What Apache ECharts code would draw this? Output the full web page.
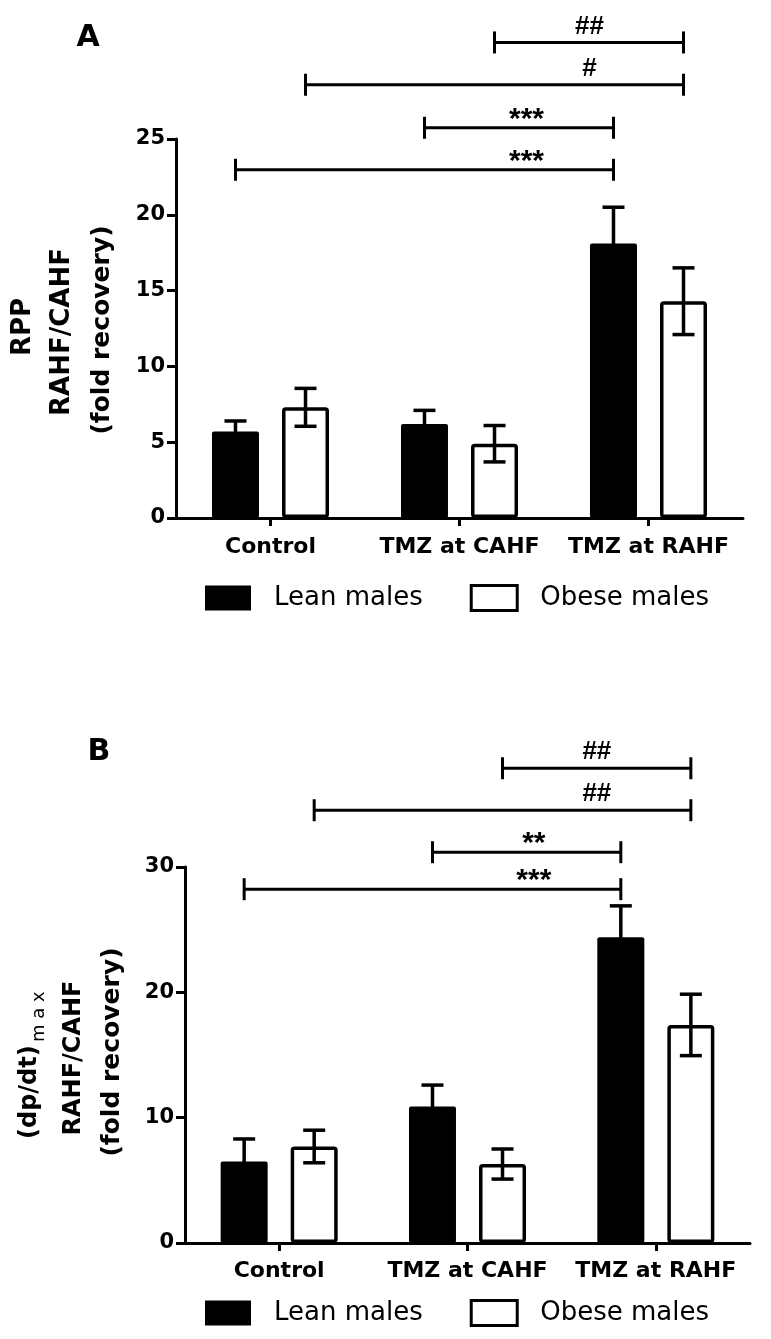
<!DOCTYPE html>
<html><head><meta charset="utf-8">
<script src="https://cdn.jsdelivr.net/npm/echarts@6/dist/echarts.min.js"></script>
<style>html,body{margin:0;padding:0;background:#fff}#c{width:771px;height:1339px}</style>
</head><body><div id="c"></div>
<script>
// ---------- data ----------
const categories = ['Control', 'TMZ at CAHF', 'TMZ at RAHF'];
const seriesNames = ['Lean males', 'Obese males'];

const rppLean = [5.7, 6.2, 18.1];
const rppLeanErr = [0.7, 0.9, 2.4];
const rppObese = [7.3, 4.9, 14.3];
const rppObeseErr = [1.25, 1.2, 2.2];

const dpLean = [6.5, 10.9, 24.4];
const dpLeanErr = [1.8, 1.7, 2.5];
const dpObese = [7.7, 6.3, 17.4];
const dpObeseErr = [1.3, 1.2, 2.45];

const rppTicks = [0, 5, 10, 15, 20, 25];
const dpTicks = [0, 10, 20, 30];

// significance brackets: [fromCategory, fromSeries, toCategory, toSeries, level, label]
const rppSig = [
  [0, 0, 2, 0, 22.97, '***'],
  [1, 0, 2, 0, 25.74, '***'],
  [0, 1, 2, 1, 28.58, '#'],
  [1, 1, 2, 1, 31.37, '##']
];
const dpSig = [
  [0, 0, 2, 0, 28.23, '***'],
  [1, 0, 2, 0, 31.18, '**'],
  [0, 1, 2, 1, 34.53, '##'],
  [1, 1, 2, 1, 37.88, '##']
];

// ---------- styling constants ----------
const BAR_W = 47;
const GAP_PCT = 0.49;
const HALF = (BAR_W + BAR_W * GAP_PCT) / 2;
const CAP = 11;
const FONT_BOLD = '"DejaVu Sans"';

function errRender(params, api) {
  const cat = api.value(0), v = api.value(1), e = api.value(2), s = api.value(3);
  const off = s === 0 ? -HALF : HALF;
  const top = api.coord([cat, v + e]);
  const bot = api.coord([cat, v - e]);
  const x = top[0] + off;
  const st = { stroke: '#000', lineWidth: 3.5, lineCap: 'butt' };
  return {
    type: 'group', children: [
      { type: 'line', shape: { x1: x, y1: top[1], x2: x, y2: bot[1] }, style: st },
      { type: 'line', shape: { x1: x - CAP, y1: top[1], x2: x + CAP, y2: top[1] }, style: st },
      { type: 'line', shape: { x1: x - CAP, y1: bot[1], x2: x + CAP, y2: bot[1] }, style: st }
    ]
  };
}

function sigRender(list) {
  return function (params, api) {
    const b = list[params.dataIndex];
    const p1 = api.coord([b[0], b[4]]);
    const p2 = api.coord([b[2], b[4]]);
    const x1 = p1[0] + (b[1] === 0 ? -HALF : HALF);
    const x2 = p2[0] + (b[3] === 0 ? -HALF : HALF);
    const y = p1[1];
    const st = { stroke: '#000', lineWidth: 3 };
    const isHash = b[5].indexOf('#') >= 0;
    const tx = x2 - (isHash ? 94 : 87);
    const ty = y - (isHash ? 16 : 8);
    return {
      type: 'group', children: [
        { type: 'line', shape: { x1: x1, y1: y, x2: x2, y2: y }, style: st },
        { type: 'line', shape: { x1: x1, y1: y - 11, x2: x1, y2: y + 11 }, style: st },
        { type: 'line', shape: { x1: x2, y1: y - 11, x2: x2, y2: y + 11 }, style: st },
        { type: 'text', x: tx, y: ty, style: {
            text: b[5], fill: '#000',
            font: isHash ? 'bold 26px "Liberation Sans"' : 'bold 30px "Liberation Sans"',
            align: 'center', verticalAlign: 'middle', textAlign: 'center', textVerticalAlign: 'middle' } }
      ]
    };
  };
}

function errData(vals, errs, s) {
  return vals.map((v, i) => [i, v, errs[i], s]);
}

function yAxis(gi, ticks) {
  return {
    type: 'value', gridIndex: gi, min: ticks[0], max: ticks[ticks.length - 1],
    interval: ticks[1] - ticks[0],
    axisLine: { show: true, lineStyle: { color: '#000', width: 3 } },
    axisTick: { show: true, length: 9, lineStyle: { color: '#000', width: 3 } },
    splitLine: { show: false },
    axisLabel: { color: '#000', fontFamily: FONT_BOLD, fontWeight: 'bold', fontSize: 21, margin: 11 }
  };
}
function xAxis(gi, margin) {
  return {
    type: 'category', gridIndex: gi, data: categories,
    axisLine: { show: true, lineStyle: { color: '#000', width: 3 } },
    axisTick: { show: true, alignWithLabel: true, length: 8, lineStyle: { color: '#000', width: 3 } },
    axisLabel: { color: '#000', fontFamily: FONT_BOLD, fontWeight: 'bold', fontSize: 22, margin: margin,
      interval: 0, hideOverlap: false }
  };
}

const leanStyle = { color: '#000', borderRadius: 2 };
const obeseStyle = { color: '#fff', borderColor: '#000', borderWidth: 3.5, borderRadius: 2 };

function bars(gi, lean, obese) {
  return [
    { name: seriesNames[0], type: 'bar', xAxisIndex: gi, yAxisIndex: gi, data: lean,
      barWidth: BAR_W, barGap: (GAP_PCT * 100) + '%', itemStyle: leanStyle, z: 2 },
    { name: seriesNames[1], type: 'bar', xAxisIndex: gi, yAxisIndex: gi, data: obese,
      barWidth: BAR_W, barGap: (GAP_PCT * 100) + '%', itemStyle: obeseStyle, z: 2 }
  ];
}

function legend(top) {
  return {
    left: 205, top: top, padding: 0, itemWidth: 46, itemHeight: 25, itemGap: 47,
    icon: 'rect', selectedMode: false,
    textStyle: { fontFamily: '"DejaVu Sans"', fontSize: 26, color: '#000', padding: [0, 0, 0, 18] },
    data: [
      { name: seriesNames[0], itemStyle: { color: '#000' } },
      { name: seriesNames[1], itemStyle: { color: '#fff', borderColor: '#000', borderWidth: 3 } }
    ]
  };
}

function vtext(x, y, text, size) {
  return { type: 'text', x: x, y: y, rotation: Math.PI / 2, style: {
    text: text, fill: '#000', font: 'bold ' + size + 'px "DejaVu Sans"',
    align: 'center', verticalAlign: 'middle', textAlign: 'center', textVerticalAlign: 'middle' } };
}

const chart = echarts.init(document.getElementById('c'), null, { renderer: 'canvas' });
chart.setOption({
  backgroundColor: '#fff',
  animation: false,
  grid: [
    { left: 176, top: 139, width: 567, height: 379 },
    { left: 185, top: 867, width: 565, height: 376 }
  ],
  xAxis: [xAxis(0, 18), xAxis(1, 17)],
  yAxis: [yAxis(0, rppTicks), yAxis(1, dpTicks)],
  legend: [legend(584), legend(1299)],
  series: [
    ...bars(0, rppLean, rppObese),
    ...bars(1, dpLean, dpObese),
    { type: 'custom', xAxisIndex: 0, yAxisIndex: 0, renderItem: errRender, z: 5, clip: false,
      encode: { x: 0, y: 1 }, data: errData(rppLean, rppLeanErr, 0).concat(errData(rppObese, rppObeseErr, 1)) },
    { type: 'custom', xAxisIndex: 1, yAxisIndex: 1, renderItem: errRender, z: 5, clip: false,
      encode: { x: 0, y: 1 }, data: errData(dpLean, dpLeanErr, 0).concat(errData(dpObese, dpObeseErr, 1)) },
    { type: 'custom', xAxisIndex: 0, yAxisIndex: 0, renderItem: sigRender(rppSig), z: 5, clip: false,
      encode: { x: 0, y: 4 }, data: rppSig.map(b => [b[0], b[1], b[2], b[3], b[4]]) },
    { type: 'custom', xAxisIndex: 1, yAxisIndex: 1, renderItem: sigRender(dpSig), z: 5, clip: false,
      encode: { x: 0, y: 4 }, data: dpSig.map(b => [b[0], b[1], b[2], b[3], b[4]]) }
  ],
  graphic: [
    { type: 'text', x: 88, y: 38, style: { text: 'A', fill: '#000', font: 'bold 30px "DejaVu Sans"',
      align: 'center', verticalAlign: 'middle', textAlign: 'center', textVerticalAlign: 'middle' } },
    { type: 'text', x: 99, y: 752, style: { text: 'B', fill: '#000', font: 'bold 30px "DejaVu Sans"',
      align: 'center', verticalAlign: 'middle', textAlign: 'center', textVerticalAlign: 'middle' } },
    vtext(23, 327, 'RPP', 26),
    vtext(62, 332, 'RAHF/CAHF', 26),
    vtext(102, 330, '(fold recovery)', 25),
    {
      type: 'group', x: 30, y: 1059, rotation: Math.PI / 2,
      children: [
        { type: 'text', x: -80, y: 0, style: { text: '(dp/dt)', fill: '#000', font: 'bold 24px "DejaVu Sans"',
          align: 'left', verticalAlign: 'middle', textAlign: 'left', textVerticalAlign: 'middle' } },
        { type: 'text', x: 17, y: 9, style: { text: 'm a x', fill: '#000', font: '18px "DejaVu Sans"',
          align: 'left', verticalAlign: 'middle', textAlign: 'left', textVerticalAlign: 'middle' } }
      ]
    },
    vtext(74, 1058, 'RAHF/CAHF', 24),
    vtext(112, 1052, '(fold recovery)', 25)
  ]
});
</script>
</body></html>
